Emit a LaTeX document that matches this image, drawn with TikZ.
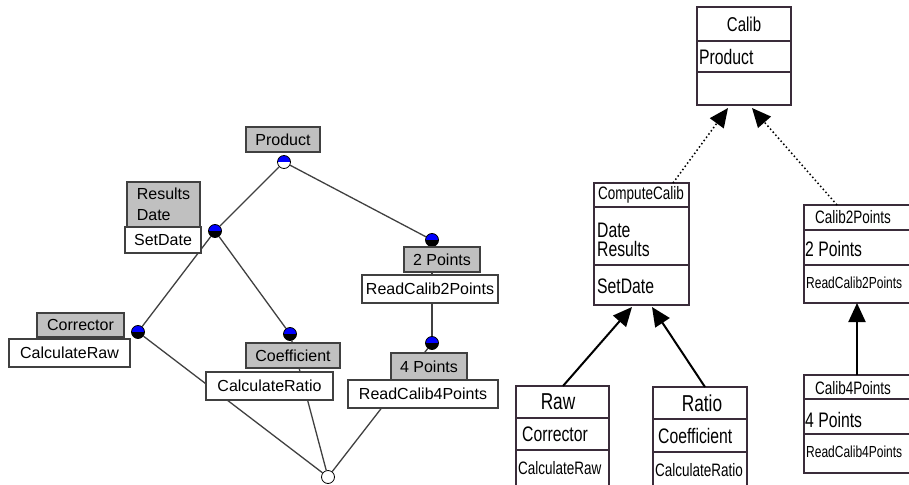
\documentclass[tikz,border=0pt]{standalone}
\usepackage{fontspec}
\setmainfont{Liberation Sans}
\newfontfamily\umlfont[FakeStretch=0.75]{Liberation Sans}
\usepackage{xcolor}
\usepackage{tikz}
\usetikzlibrary{arrows.meta}
\usetikzlibrary{positioning}
\definecolor{boxgray}{HTML}{C0C0C0}
\definecolor{latline}{HTML}{404040}
\definecolor{umlline}{HTML}{3A2C3A}
\tikzset{
	attrbox/.style={fill=boxgray, draw=latline, line width=1.3pt},
	methbox/.style={fill=white, draw=latline, line width=1.3pt},
	lattext/.style={font=\fontsize{16}{21}\selectfont, align=left, inner sep=0pt},
	concept/.style={circle, draw=black, line width=0.8pt, minimum size=13pt, inner sep=0pt, fill=#1,
		path picture={\fill[blue] (path picture bounding box.west) rectangle (path picture bounding box.north east);}},
	bottomconcept/.style={circle, draw=black, line width=0.8pt, minimum size=13pt, inner sep=0pt, fill=white},
	latedge/.style={draw=latline, line width=1.3pt},
	classbox/.style={draw=umlline, line width=1.3pt},
	big/.style={font=\umlfont\fontsize{23}{26}\selectfont, inner sep=0pt},
	mid/.style={font=\umlfont\fontsize{21}{19}\selectfont, inner sep=0pt, align=left},
	small/.style={font=\umlfont\fontsize{18}{20}\selectfont, inner sep=0pt},
	tiny/.style={font=\umlfont\fontsize{16}{18}\selectfont, inner sep=0pt},
	inherit/.style={line width=2pt, -{Triangle[length=19pt, width=17pt]}},
	realize/.style={line width=1.5pt, dash pattern=on 1.5pt off 2.5pt, -{Triangle[length=19pt, width=17pt]}},
}

\begin{document}
\begin{tikzpicture}[x=1pt, y=-1pt]
		\useasboundingbox (0,0) rectangle (909,484);
		\clip (0,0) rectangle (909,484);
		
		% concept lattice
		\node[concept=white] (cprod) at (284,162) {};
		\node[concept=black] (cdate) at (215,231) {};
		\node[concept=black] (ccorr) at (138,332) {};
		\node[concept=black] (ccoef) at (290,334) {};
		\node[concept=black] (c2p) at (432,240) {};
		\node[concept=black] (c4p) at (432,343) {};
		\node[bottomconcept] (cbot) at (328,477) {};
		
		\draw[latedge] (cprod) -- (cdate);
		\draw[latedge] (cprod) -- (c2p);
		\draw[latedge] (cdate) -- (ccorr);
		\draw[latedge] (cdate) -- (ccoef);
		\draw[latedge] (c2p) -- (c4p);
		\draw[latedge] (ccorr) -- (cbot);
		\draw[latedge] (ccoef) -- (cbot);
		\draw[latedge] (c4p) -- (cbot);
		
		\filldraw[attrbox] (246,127) rectangle node[lattext] (lprod) {Product} (320,152);
		\filldraw[attrbox] (127,182) rectangle node[lattext] (ldate) {Results\\Date} (200,227);
		\filldraw[methbox] (125,227) rectangle node[lattext] (lsetdate) {SetDate} (201,253);
		\filldraw[attrbox] (37,313) rectangle node[lattext] (lcorr) {Corrector} (124,337);
		\filldraw[methbox] (9,339) rectangle node[lattext] (lcalcraw) {CalculateRaw} (130,367);
		\filldraw[attrbox] (246,343) rectangle node[lattext] (lcoef) {Coefficient} (340,368);
		\filldraw[methbox] (206,372) rectangle node[lattext] (lcalcratio) {CalculateRatio} (333,400);
		\filldraw[attrbox] (404,247) rectangle node[lattext] (l2p) {2 Points} (480,272);
		\filldraw[methbox] (362,275) rectangle node[lattext] (lread2) {ReadCalib2Points} (498,303);
		\filldraw[attrbox] (391,353) rectangle node[lattext] (l4p) {4 Points} (467,380);
		\filldraw[methbox] (348,380) rectangle node[lattext] (lread4) {ReadCalib4Points} (498,408);
		
		% class diagram
		\draw[classbox] (697,7) rectangle (791,105);
		\draw[classbox] (697,41) -- (791,41) (697,72) -- (791,72);
		\node[big, font=\umlfont\fontsize{20}{22}\selectfont] (calib) at (744,24) {Calib};
		\node[mid, anchor=west] (calibattr) at (699,57) {Product};
		
		\draw[classbox] (594,183) rectangle (689,305);
		\draw[classbox] (594,207) -- (689,207) (594,265) -- (689,265);
		\node[small] (compute) at (641,195) {ComputeCalib};
		\node[mid, anchor=west] (computeattr) at (597,240) {Date\\Results};
		\node[mid, anchor=west] (computemeth) at (597,286) {SetDate};
		
		\draw[classbox] (804,205) rectangle (930,303);
		\draw[classbox] (804,230) -- (930,230) (804,265) -- (930,265);
		\node[small, anchor=west] (calibtwo) at (815,217) {Calib2Points};
		\node[mid, anchor=west] (calibtwoattr) at (805,249) {2 Points};
		\node[tiny, anchor=west] (calibtwometh) at (806,283) {ReadCalib2Points};
		
		\draw[classbox] (804,375) rectangle (930,473);
		\draw[classbox] (804,399) -- (930,399) (804,434) -- (930,434);
		\node[small, anchor=west] (calibfour) at (815,388) {Calib4Points};
		\node[mid, anchor=west] (calibfourattr) at (805,420) {4 Points};
		\node[tiny, anchor=west] (calibfourmeth) at (806,452) {ReadCalib4Points};
		
		\draw[classbox] (516,386) rectangle (609,500);
		\draw[classbox] (516,418) -- (609,418) (516,450) -- (609,450);
		\node[big] (raw) at (558,402) {Raw};
		\node[mid, anchor=west] (rawattr) at (522,434) {Corrector};
		\node[small, anchor=west] (rawmeth) at (518,468) {CalculateRaw};
		
		\draw[classbox] (653,387) rectangle (747,500);
		\draw[classbox] (653,419) -- (747,419) (653,452) -- (747,452);
		\node[big] (ratio) at (702,403) {Ratio};
		\node[mid, anchor=west] (ratioattr) at (658,436) {Coefficient};
		\node[small, anchor=west] (ratiometh) at (655,470) {CalculateRatio};
		
		\coordinate (computetop) at (673,183);
		\coordinate (calibtwotop) at (837,205);
		\coordinate (calibbotl) at (728,108);
		\coordinate (calibbotr) at (752,108);
		\coordinate (computebotl) at (632,307);
		\coordinate (computebotr) at (652,307);
		\coordinate (calibtwobot) at (857,303);
		\coordinate (rawtop) at (563,386);
		\coordinate (ratiotop) at (705,387);
		\coordinate (calibfourtop) at (857,375);
		
		\draw[realize] (computetop) -- (calibbotl);
		\draw[realize] (calibtwotop) -- (calibbotr);
		\draw[inherit] (rawtop) -- (computebotl);
		\draw[inherit] (ratiotop) -- (computebotr);
		\draw[inherit] (calibfourtop) -- (calibtwobot);
		
	\end{tikzpicture}
\end{document}
